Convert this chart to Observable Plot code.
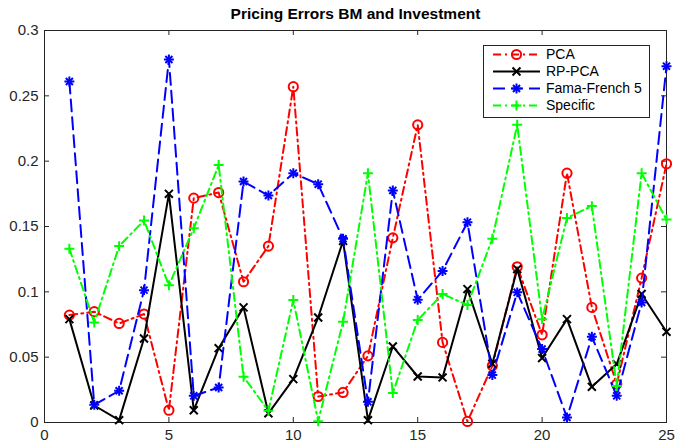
<!DOCTYPE html>
<html><head><meta charset="utf-8">
<script src="https://cdn.jsdelivr.net/npm/d3@7"></script>
<script src="https://cdn.jsdelivr.net/npm/@observablehq/plot@0.6"></script>
<style>
body{margin:0;background:#fff;font-family:"Liberation Sans",Arial,sans-serif;}
#wrap{position:relative;width:676px;height:443px;}
#legend{position:absolute;left:483px;top:45px;}
</style></head><body><div id="wrap"></div>
<script>
const title = "Pricing Errors BM and Investment";
const xs = [1,2,3,4,5,6,7,8,9,10,11,12,13,14,15,16,17,18,19,20,21,22,23,24,25];
const pca = [0.0822,0.0848,0.0758,0.083,0.0094,0.1717,0.176,0.1077,0.135,0.257,0.0199,0.023,0.051,0.1413,0.2278,0.0613,0.0008,0.0434,0.1192,0.0671,0.1908,0.0881,0.0294,0.1105,0.198];
const rppca = [0.0791,0.013,0.0018,0.0643,0.175,0.0094,0.0569,0.0881,0.007,0.0332,0.0804,0.139,0.0018,0.0582,0.0352,0.0345,0.1021,0.045,0.1174,0.0493,0.0791,0.0273,0.0447,0.0983,0.0694];
const ff5 = [0.261,0.0135,0.0243,0.1013,0.2778,0.0204,0.0268,0.1844,0.1737,0.1908,0.1824,0.1406,0.0158,0.1776,0.094,0.116,0.1533,0.0363,0.0996,0.0562,0.0038,0.0656,0.0204,0.0919,0.2727];
const specific = [0.133,0.0766,0.135,0.1546,0.105,0.1487,0.197,0.035,0.009,0.0937,0.001,0.0771,0.1908,0.0225,0.0784,0.0983,0.0899,0.1406,0.2278,0.0791,0.1566,0.1656,0.028,0.1908,0.1553];
const names = ["PCA","RP-PCA","Fama-French 5","Specific"];
const seriesValues = [pca, rppca, ff5, specific];
const colors = ["#ff0000","#000000","#0000ff","#00ff00"];
const dashes = ["8,4,2,4", "none", "12,6", "8,4,2,4"];
const xTicks = [0,5,10,15,20,25];
const yTicks = [0,0.05,0.1,0.15,0.2,0.25,0.3];
const yTickLabels = ["0","0.05","0.1","0.15","0.2","0.25","0.3"];

const W = 676, H = 443, mL = 44, mR = 10, mT = 30, mB = 21;
const fw = W - mL - mR, fh = H - mT - mB;
const axisColor = "#262626";

const rows = [];
names.forEach((n, si) => seriesValues[si].forEach((v, i) => rows.push({s: n, si, x: xs[i], v})));

const markerSpecs = [
  [["circle", 4.6]],
  [["times", 3.7]],
  [["plus", 3.3], ["times", 3.3]],
  [["plus", 3.3]]
];

const marks = [
  Plot.frame({stroke: axisColor, strokeWidth: 1}),
  Plot.ruleX(xTicks, {x: d => d, stroke: axisColor, insetTop: fh - 5}),
  Plot.ruleX(xTicks, {x: d => d, stroke: axisColor, insetBottom: fh - 5}),
  Plot.ruleY(yTicks, {y: d => d, stroke: axisColor, insetRight: fw - 5}),
  Plot.ruleY(yTicks, {y: d => d, stroke: axisColor, insetLeft: fw - 5}),
  Plot.axisX({ticks: xTicks, tickSize: 0, tickPadding: 7, fontSize: 15, fill: axisColor, label: null}),
  Plot.axisY({ticks: yTicks, tickSize: 0, tickPadding: 6, fontSize: 15, fill: axisColor, label: null,
    tickFormat: d => yTickLabels[yTicks.indexOf(d)]}),
  Plot.text([title], {text: d => d, frameAnchor: "top", lineAnchor: "middle", dy: -16, fontWeight: "bold", fontSize: 15.5, fill: "#000"})
];
names.forEach((n, si) => {
  const data = rows.filter(r => r.si === si);
  marks.push(Plot.line(data, {x: "x", y: "v", stroke: colors[si], strokeWidth: 2,
    strokeDasharray: dashes[si] === "none" ? null : dashes[si]}));
  markerSpecs[si].forEach(([sym, r]) => {
    marks.push(Plot.dot(data, {x: "x", y: "v", symbol: sym, r, stroke: colors[si], strokeWidth: 2, fill: "none"}));
  });
});

const chart = Plot.plot({
  width: W, height: H,
  marginLeft: mL, marginRight: mR, marginTop: mT, marginBottom: mB,
  style: {fontFamily: '"Liberation Sans", Arial, sans-serif', background: "#fff", overflow: "visible"},
  x: {domain: [0, 25]},
  y: {domain: [0, 0.3]},
  marks
});
const wrap = document.getElementById("wrap");
wrap.appendChild(chart);

const lw = 166, lh = 72;
const leg = d3.create("svg").attr("id", "legend").attr("width", lw + 1).attr("height", lh + 1);
leg.append("rect").attr("x", 0.5).attr("y", 0.5).attr("width", lw).attr("height", lh)
  .attr("fill", "#fff").attr("stroke", axisColor).attr("stroke-width", 1);
const symMap = {circle: d3.symbolCircle, times: d3.symbolTimes, plus: d3.symbolPlus};
names.forEach((n, si) => {
  const y = 9.5 + si * 17;
  const g = leg.append("g");
  g.append("line").attr("x1", 10).attr("x2", 57).attr("y1", y).attr("y2", y)
    .attr("stroke", colors[si]).attr("stroke-width", 2)
    .attr("stroke-dasharray", dashes[si] === "none" ? null : dashes[si]);
  markerSpecs[si].forEach(([sym, r]) => {
    g.append("path").attr("transform", `translate(33.5,${y})`)
      .attr("d", d3.symbol(symMap[sym], Math.PI * r * r)())
      .attr("fill", "none").attr("stroke", colors[si]).attr("stroke-width", 2);
  });
  g.append("text").attr("x", 63).attr("y", y).attr("dy", "0.35em")
    .attr("font-size", 14).attr("fill", "#000")
    .attr("font-family", '"Liberation Sans", Arial, sans-serif').text(n);
});
wrap.appendChild(leg.node());
</script></body></html>
